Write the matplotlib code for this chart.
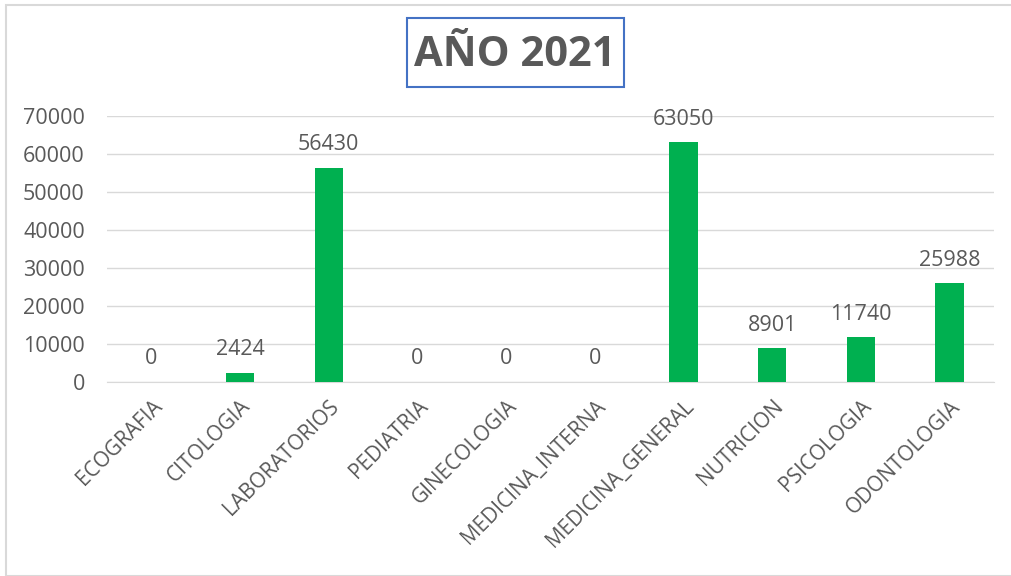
import matplotlib.pyplot as plt
from matplotlib.patches import Rectangle

categorias = ["ECOGRAFIA", "CITOLOGIA", "LABORATORIOS", "PEDIATRIA", "GINECOLOGIA",
              "MEDICINA_INTERNA", "MEDICINA_GENERAL", "NUTRICION", "PSICOLOGIA", "ODONTOLOGIA"]
atenciones = [0, 2424, 56430, 0, 0, 0, 63050, 8901, 11740, 25988]
y_ticks = [0, 10000, 20000, 30000, 40000, 50000, 60000, 70000]

texto = "#595959"
verde = "#00B050"
plt.rcParams['font.family'] = ['Open Sans', 'DejaVu Sans']

fig = plt.figure(figsize=(10.11, 5.76), dpi=100)
ax = fig.add_axes([107 / 1011, 1 - 382 / 576, (994 - 107) / 1011, (382 - 116) / 576])

x = range(len(categorias))
bars = ax.bar(x, atenciones, width=0.32, color=verde, zorder=3)
for b, v in zip(bars, atenciones):
    ax.annotate(str(v), (b.get_x() + b.get_width() / 2, v), xytext=(0, 9),
                textcoords="offset points", ha="center", va="bottom",
                fontsize=15.5, color=texto)

ax.set_xlim(-0.5, len(categorias) - 0.5)
ax.set_ylim(0, 70000)
ax.set_yticks(y_ticks)
ax.set_yticklabels([str(t) for t in y_ticks], fontsize=15.5, color=texto)
ax.set_xticks(list(x))
ax.set_xticklabels(categorias, rotation=45, ha="right", rotation_mode="anchor",
                   fontsize=15, color=texto)
ax.tick_params(axis="x", length=0, pad=10)
ax.tick_params(axis="y", length=0, pad=16)
ax.grid(axis="y", color="#D9D9D9", linewidth=1, zorder=0)
for s in ["top", "right", "left"]:
    ax.spines[s].set_visible(False)
ax.spines["bottom"].set_color("#D9D9D9")

# chart frame and boxed title
fig.patches.append(Rectangle((6 / 1011, 0), 1.2, 1 - 5 / 576, transform=fig.transFigure,
                             fill=False, edgecolor="#D9D9D9", linewidth=1.5))
fig.patches.append(Rectangle((407 / 1011, 1 - 87 / 576), 217 / 1011, 69 / 576,
                             transform=fig.transFigure, facecolor="white",
                             edgecolor="#4472C4", linewidth=1.5))
fig.text(515 / 1011, 1 - 56 / 576, "AÑO 2021", ha="center", va="center",
         fontsize=30, fontweight="bold", color=texto)

fig.savefig("out.png", dpi=100)
